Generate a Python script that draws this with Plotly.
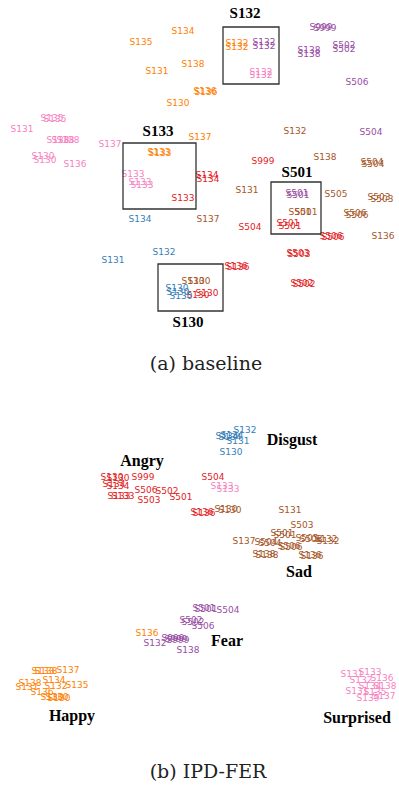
import plotly.graph_objects as go

# ---------------- data: 2-D embedding positions of samples (label = subject id) ----------------
EMOTIONS = ["Angry", "Disgust", "Fear", "Happy", "Sad", "Surprised"]

# Panel (a): baseline
a_angry_subj = ["S999", "S134", "S134", "S133", "S504", "S501", "S501", "S506", "S506", "S503", "S503", "S502", "S502", "S136", "S136", "S130", "S130"]
a_angry_x = [263, 207, 208, 183, 250, 288, 290, 331, 333, 298, 299, 302, 304, 236, 238, 198, 207]
a_angry_y = [162, 176, 180, 199, 228, 224, 227, 237, 238, 254, 255, 284, 285, 267, 268, 296, 294]

a_disgust_subj = ["S134", "S131", "S132", "S130", "S130", "S130"]
a_disgust_x = [140, 113, 164, 177, 178, 181]
a_disgust_y = [220, 261, 253, 289, 293, 297]

a_fear_subj = ["S999", "S999", "S132", "S132", "S138", "S138", "S502", "S502", "S506", "S504", "S501", "S501"]
a_fear_x = [321, 325, 264, 264, 309, 309, 344, 344, 357, 371, 297, 298]
a_fear_y = [28, 29, 43, 47, 51, 55, 46, 50, 83, 133, 194, 196]

a_happy_subj = ["S134", "S135", "S131", "S138", "S130", "S136", "S136", "S137", "S133", "S133", "S132", "S132"]
a_happy_x = [183, 141, 157, 193, 178, 205, 206, 200, 159, 160, 237, 237]
a_happy_y = [32, 43, 72, 65, 104, 92, 93, 138, 153, 154, 44, 48]

a_sad_subj = ["S132", "S138", "S504", "S504", "S131", "S505", "S503", "S503", "S501", "S501", "S506", "S506", "S137", "S136", "S130", "S130"]
a_sad_x = [295, 325, 372, 373, 247, 336, 379, 382, 300, 306, 355, 357, 208, 383, 193, 199]
a_sad_y = [132, 158, 163, 165, 191, 195, 198, 200, 213, 213, 214, 216, 220, 237, 282, 282]

a_surprised_subj = ["S135", "S135", "S131", "S138", "S138", "S138", "S130", "S130", "S136", "S137", "S132", "S132", "S133", "S133", "S133"]
a_surprised_x = [52, 55, 22, 58, 63, 68, 43, 45, 75, 110, 261, 261, 133, 140, 142]
a_surprised_y = [119, 120, 130, 141, 141, 141, 157, 161, 165, 145, 73, 76, 175, 183, 186]

# Panel (b): IPD-FER
b_angry_subj = ["S130", "S130", "S999", "S134", "S134", "S506", "S502", "S133", "S133", "S503", "S501", "S504", "S136", "S136"]
b_angry_x = [112, 118, 143, 114, 118, 146, 167, 119, 123, 149, 181, 213, 202, 204]
b_angry_y = [478, 479, 478, 485, 487, 491, 492, 497, 497, 501, 498, 478, 513, 514]

b_disgust_subj = ["S132", "S134", "S134", "S134", "S131", "S130"]
b_disgust_x = [245, 227, 230, 232, 238, 231]
b_disgust_y = [431, 437, 438, 436, 442, 453]

b_fear_subj = ["S501", "S501", "S504", "S502", "S502", "S506", "S999", "S999", "S999", "S132", "S138"]
b_fear_x = [204, 206, 228, 191, 193, 203, 173, 176, 178, 155, 188]
b_fear_y = [609, 610, 611, 621, 623, 627, 639, 640, 641, 644, 651]

b_happy_subj = ["S136", "S133", "S138", "S137", "S134", "S138", "S131", "S135", "S132", "S136", "S130", "S130", "S130"]
b_happy_x = [147, 43, 46, 68, 54, 30, 27, 77, 56, 42, 52, 57, 59]
b_happy_y = [634, 672, 672, 671, 681, 684, 688, 686, 687, 693, 698, 698, 699]

b_sad_subj = ["S130", "S130", "S131", "S503", "S501", "S501", "S505", "S508", "S132", "S132", "S137", "S504", "S504", "S506", "S506", "S138", "S138", "S136", "S136"]
b_sad_x = [226, 230, 290, 302, 282, 285, 307, 311, 326, 328, 244, 266, 270, 289, 291, 264, 267, 310, 312]
b_sad_y = [510, 511, 511, 526, 534, 536, 539, 540, 540, 542, 542, 543, 544, 547, 548, 555, 556, 556, 557]

b_surprised_subj = ["S133", "S133", "S131", "S133", "S136", "S132", "S138", "S134", "S131", "S135", "S137", "S139"]
b_surprised_x = [222, 228, 352, 370, 382, 361, 385, 370, 357, 375, 384, 368]
b_surprised_y = [487, 490, 675, 673, 679, 681, 687, 687, 692, 693, 697, 699]

# zoom boxes in panel (a): subject, x0, x1, y0, y1
box_subj = ["S132", "S133", "S501", "S130"]
box_x0 = [223, 123, 271, 158]
box_x1 = [279, 196, 321, 223]
box_y0 = [27, 143, 182, 264]
box_y1 = [84, 209, 234, 311]
box_lab_x = [245, 158, 297, 188]
box_lab_y = [14, 132, 173, 323]

# cluster names in panel (b)
clu_names = ["Disgust", "Angry", "Sad", "Fear", "Happy", "Surprised"]
clu_x = [292, 142, 299, 227, 72, 357]
clu_y = [441, 462, 573, 642, 717, 719]

captions = ["(a) baseline", "(b) IPD-FER"]
cap_x = [206, 208]
cap_y = [365, 773]

# ---------------- style ----------------
COLORS = {
    "Angry": "#e41a1c",
    "Disgust": "#377eb8",
    "Fear": "#984ea3",
    "Happy": "#ff7f00",
    "Sad": "#a65628",
    "Surprised": "#f781bf",
}

fig = go.Figure()

panel_data = {
    "Angry": [(a_angry_subj, a_angry_x, a_angry_y), (b_angry_subj, b_angry_x, b_angry_y)],
    "Disgust": [(a_disgust_subj, a_disgust_x, a_disgust_y), (b_disgust_subj, b_disgust_x, b_disgust_y)],
    "Fear": [(a_fear_subj, a_fear_x, a_fear_y), (b_fear_subj, b_fear_x, b_fear_y)],
    "Happy": [(a_happy_subj, a_happy_x, a_happy_y), (b_happy_subj, b_happy_x, b_happy_y)],
    "Sad": [(a_sad_subj, a_sad_x, a_sad_y), (b_sad_subj, b_sad_x, b_sad_y)],
    "Surprised": [(a_surprised_subj, a_surprised_x, a_surprised_y), (b_surprised_subj, b_surprised_x, b_surprised_y)],
}

for emo in EMOTIONS:
    for subj, xs, ys in panel_data[emo]:
        fig.add_trace(go.Scatter(
            x=xs, y=ys, text=subj, mode="text",
            textposition="middle center",
            textfont=dict(family="DejaVu Sans", size=9, color=COLORS[emo]),
            hoverinfo="skip", showlegend=False,
        ))

for i in range(len(box_subj)):
    fig.add_shape(type="rect", x0=box_x0[i], x1=box_x1[i], y0=box_y0[i], y1=box_y1[i],
                  line=dict(color="#333333", width=1.3), xref="x", yref="y")

fig.add_trace(go.Scatter(
    x=box_lab_x, y=box_lab_y, text=box_subj, mode="text",
    textfont=dict(family="Liberation Serif", size=15, color="black", weight="bold"),
    hoverinfo="skip", showlegend=False,
))
fig.add_trace(go.Scatter(
    x=clu_x, y=clu_y, text=clu_names, mode="text",
    textfont=dict(family="Liberation Serif", size=16, color="black", weight="bold"),
    hoverinfo="skip", showlegend=False,
))
fig.add_trace(go.Scatter(
    x=cap_x, y=cap_y, text=captions, mode="text",
    textfont=dict(family="DejaVu Serif", size=19, color="#222222"),
    hoverinfo="skip", showlegend=False,
))

fig.update_layout(
    width=399, height=785, autosize=False,
    margin=dict(l=0, r=0, t=0, b=0),
    paper_bgcolor="white", plot_bgcolor="white",
    xaxis=dict(range=[0, 399], visible=False, fixedrange=True),
    yaxis=dict(range=[785, 0], visible=False, fixedrange=True),
)

fig.write_html("out.html", config={"displayModeBar": False},
               post_script="document.body.style.margin='0';document.body.style.overflow='hidden';")
